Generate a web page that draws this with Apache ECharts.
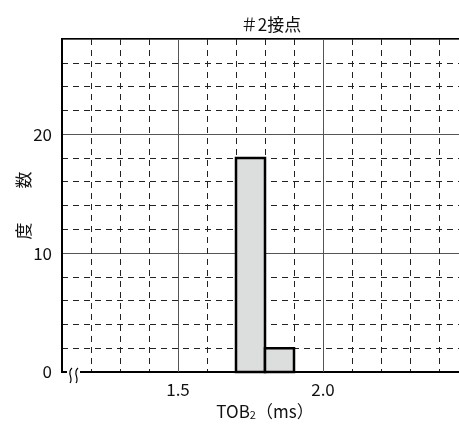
<!DOCTYPE html>
<html>
<head>
<meta charset="utf-8">
<script src="https://cdn.jsdelivr.net/npm/echarts@6/dist/echarts.min.js"></script>
<style>
  html, body { margin: 0; padding: 0; background: #fff; }
  #main { width: 459px; height: 425px; }
</style>
</head>
<body>
<div id="main"></div>
<script>
// histogram bins (ms) and counts
var binStart = [1.7, 1.8];
var binEnd = [1.8, 1.9];
var counts = [18, 2];
// labelled / solid grid positions
var xMajor = [1.5, 2.0];
var yMajor = [0, 10, 20];

window.onload = function() {
    var chart = echarts.init(document.getElementById('main')),
        font = 'Noto Sans CJK JP',
        option;

    var bars = binStart.map(function(s, i) {
        return [s, binEnd[i], counts[i]];
    });

    option = {
        animation: false,
        textStyle: { fontFamily: font },
        title: {
            text: '＃2接点',
            left: 266,
            top: 11,
            textAlign: 'center',
            textStyle: { fontFamily: font, fontSize: 17, fontWeight: 'normal', color: '#111' }
        },
        grid: {
            left: 62, top: 39, width: 406, height: 333,
            outerBoundsMode: 'none',
            containLabel: false,
            show: true, borderColor: '#000', borderWidth: 2, backgroundColor: 'transparent'
        },
        xAxis: {
            type: 'value',
            min: 1.1, max: 2.5, interval: 0.1,
            name: '{a|TOB}{s|2}{a|（ms）}',
            nameLocation: 'middle',
            nameGap: 31,
            nameTextStyle: {
                rich: {
                    a: { fontFamily: font, fontSize: 17, color: '#111' },
                    s: { fontFamily: font, fontSize: 11, color: '#111', padding: [6, 0, 0, 0] }
                }
            },
            axisLine: { show: true, lineStyle: { color: '#000', width: 2 } },
            axisTick: { show: false },
            axisLabel: {
                margin: 9, fontSize: 17, color: '#111', fontFamily: font,
                formatter: function(v) {
                    return xMajor.some(function(m) { return Math.abs(m - v) < 1e-6; }) ? v.toFixed(1) : '';
                }
            },
            splitLine: { show: true, lineStyle: { color: '#222', width: 1, type: [6, 5] } }
        },
        yAxis: [{
            type: 'value',
            min: 0, max: 28, interval: 2,
            name: '度　　数',
            nameLocation: 'middle',
            nameRotate: 90,
            nameGap: 30,
            nameTextStyle: { fontFamily: font, fontSize: 17, color: '#111' },
            axisLine: { show: true, lineStyle: { color: '#000', width: 2 } },
            axisTick: { show: false },
            axisLabel: { show: false },
            splitLine: { show: true, lineStyle: { color: '#222', width: 1, type: [6, 5] } }
        }, {
            type: 'value',
            position: 'left',
            min: 0, max: 28, interval: 10,
            axisLine: { show: false },
            axisTick: { show: false },
            axisLabel: {
                margin: 10, fontSize: 17, color: '#111', fontFamily: font,
                showMaxLabel: false,
                formatter: function(v) { return yMajor.indexOf(v) >= 0 ? String(v) : ''; }
            },
            splitLine: { show: true, lineStyle: { color: '#555', width: 1, type: 'solid' } }
        }],
        series: [{
            type: 'line',
            data: [],
            silent: true,
            markLine: {
                silent: true,
                symbol: 'none',
                label: { show: false },
                z: 1,
                lineStyle: { color: '#555', width: 1, type: 'solid' },
                data: xMajor.map(function(v) { return { xAxis: v }; })
            }
        }, {
            type: 'custom',
            z: 3,
            data: bars,
            encode: { x: [0, 1], y: 2 },
            renderItem: function(params, api) {
                var p0 = api.coord([api.value(0), api.value(2)]);
                var p1 = api.coord([api.value(1), 0]);
                return {
                    type: 'rect',
                    shape: { x: p0[0], y: p0[1], width: p1[0] - p0[0], height: p1[1] - p0[1] },
                    style: { fill: '#dcdddd', stroke: '#000', lineWidth: 2.5 }
                };
            }
        }],
        graphic: [
            { type: 'rect', shape: { x: 67, y: 369, width: 13, height: 7 }, style: { fill: '#fff' }, z: 100 },
            { type: 'bezierCurve', shape: { x1: 72, y1: 368, cpx1: 66, cpy1: 373, cpx2: 74, cpy2: 378, x2: 70, y2: 383 },
              style: { stroke: '#000', lineWidth: 1.2, fill: null }, z: 101 },
            { type: 'bezierCurve', shape: { x1: 78, y1: 368, cpx1: 72, cpy1: 373, cpx2: 80, cpy2: 378, x2: 76, y2: 383 },
              style: { stroke: '#000', lineWidth: 1.2, fill: null }, z: 101 }
        ]
    };

    chart.setOption(option);
};
</script>
</body>
</html>
